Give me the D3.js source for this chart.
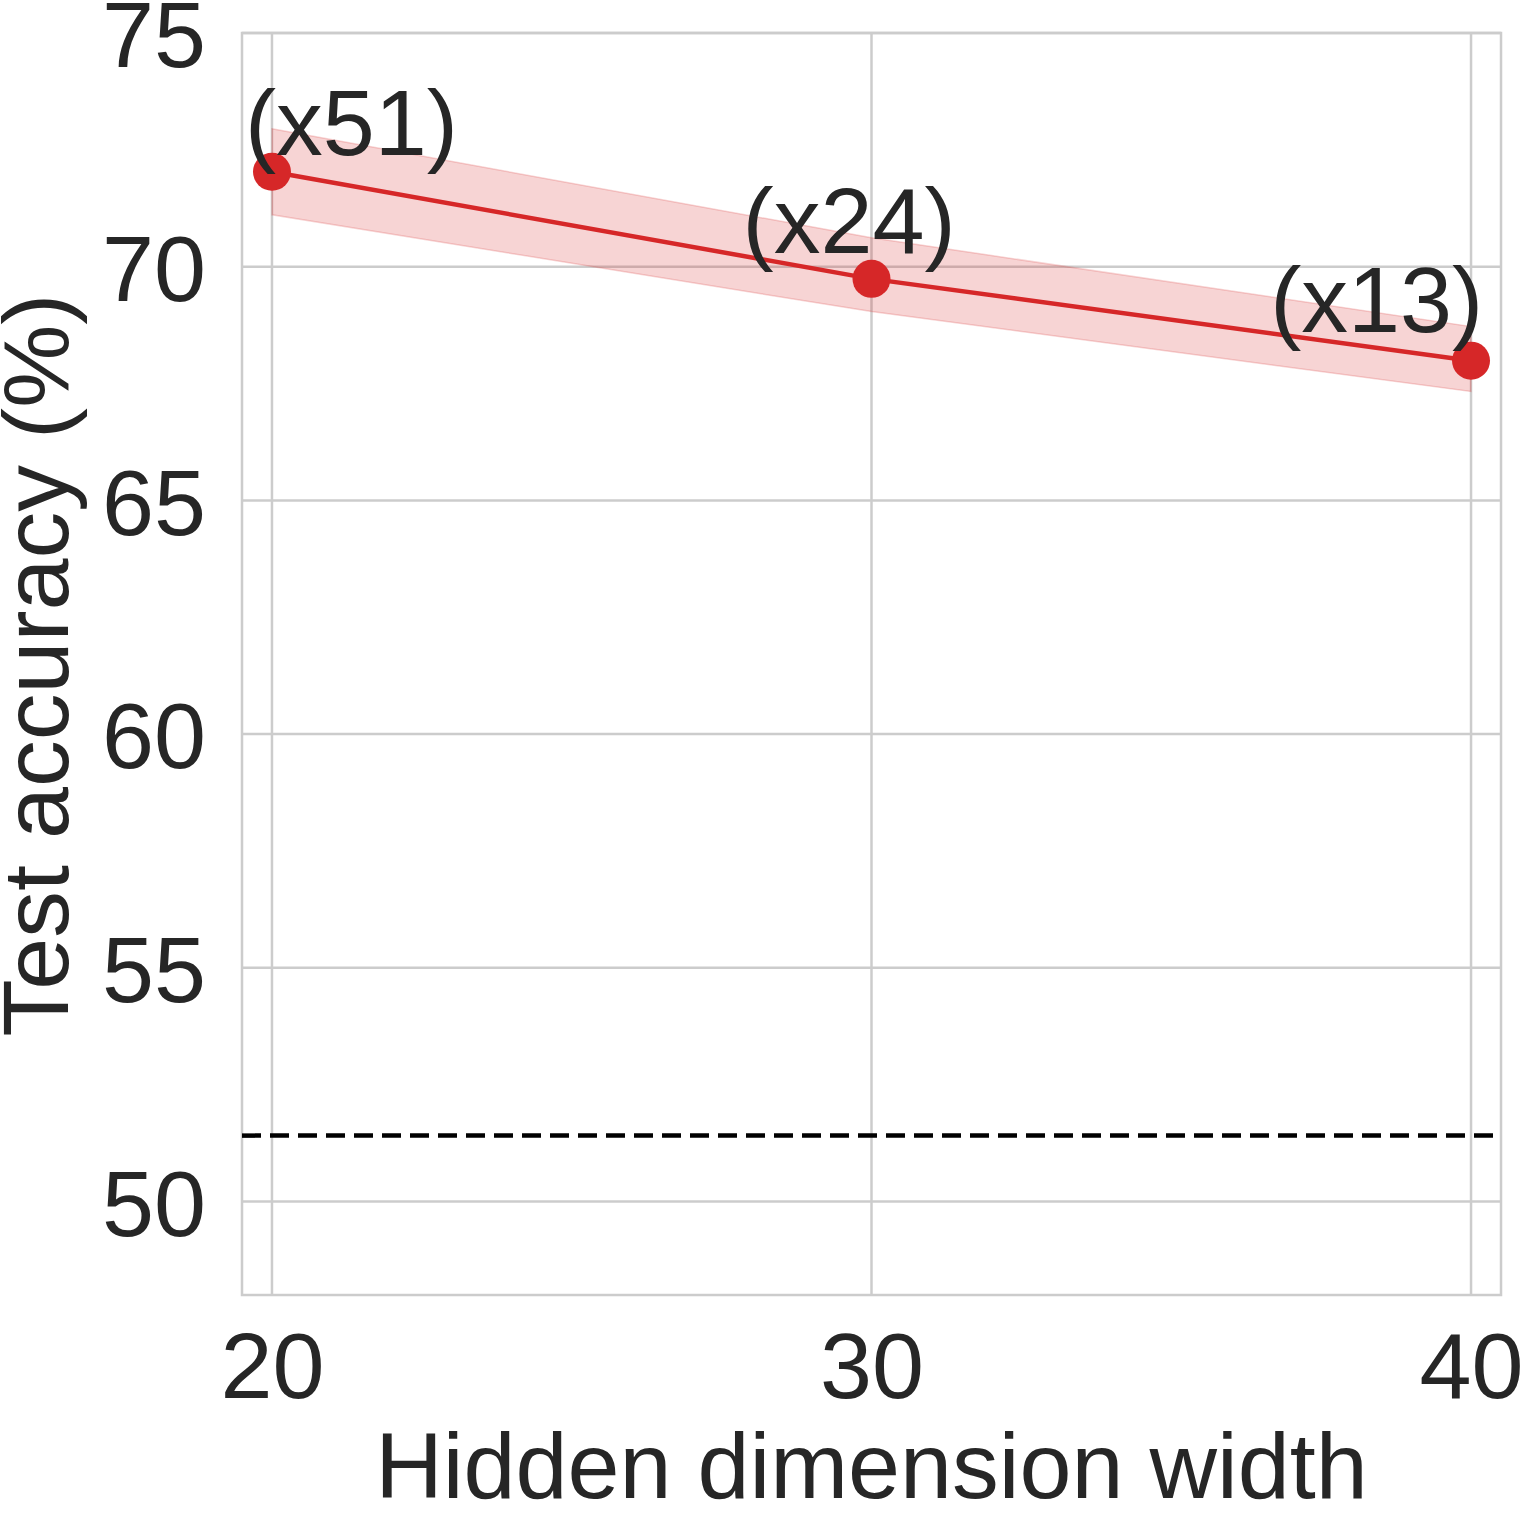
<!DOCTYPE html>
<html>
<head>
<meta charset="utf-8">
<script src="https://cdn.jsdelivr.net/npm/d3@7"></script>
<style>
    body { margin: 0; background: #fff; }
    svg text { font-family: Arial, "Liberation Sans", sans-serif; fill: #262626; }
</style>
</head>
<body>
<script>

// data
const widths = [20, 30, 40]
const accMean = [72.03, 69.74, 67.99]
const accLow = [71.11, 69.04, 67.33]
const accHigh = [72.95, 70.62, 68.72]
const speedup = ['(x51)', '(x24)', '(x13)']
const labelX = [19.55, 27.85, 36.65]
const labelY = [72.39, 70.30, 68.61]
const baseline = 51.41

const xTicks = [20, 30, 40]
const yTicks = [50, 55, 60, 65, 70, 75]

const W = 1524, H = 1517
const m = { left: 242, right: 1501, top: 33, bottom: 1295 }
const fs = 93.5
const red = '#d62728'
const grid = '#cccccc'

const svg = d3.select('body').append('svg')
    .attr('width', W)
    .attr('height', H)

const x = d3.scaleLinear().domain([19.5, 40.5]).range([m.left, m.right])
const y = d3.scaleLinear().domain([48, 75]).range([m.bottom, m.top])

// grid
svg.append('g')
    .selectAll('line')
    .data(xTicks)
    .join('line')
    .attr('x1', d => x(d)).attr('x2', d => x(d))
    .attr('y1', m.top).attr('y2', m.bottom)
    .attr('stroke', grid).attr('stroke-width', 2.5)

svg.append('g')
    .selectAll('line')
    .data(yTicks)
    .join('line')
    .attr('x1', m.left).attr('x2', m.right)
    .attr('y1', d => y(d)).attr('y2', d => y(d))
    .attr('stroke', grid).attr('stroke-width', 2.5)

// frame
svg.append('rect')
    .attr('x', m.left).attr('y', m.top)
    .attr('width', m.right - m.left).attr('height', m.bottom - m.top)
    .attr('fill', 'none')
    .attr('stroke', grid).attr('stroke-width', 2.5)

// tick labels
const xAxis = svg.append('g')
    .attr('transform', `translate(0,${m.bottom})`)
    .call(d3.axisBottom(x).tickValues(xTicks).tickSize(0).tickPadding(0))
xAxis.select('.domain').remove()
xAxis.selectAll('text')
    .attr('dy', null)
    .attr('y', 103)
    .attr('font-size', fs)

const yAxis = svg.append('g')
    .attr('transform', `translate(${m.left},0)`)
    .call(d3.axisLeft(y).tickValues(yTicks).tickSize(0).tickPadding(36))
yAxis.select('.domain').remove()
yAxis.selectAll('text')
    .attr('dy', '0.36em')
    .attr('font-size', fs)

// axis titles
svg.append('text')
    .attr('x', (m.left + m.right) / 2)
    .attr('y', 1498)
    .attr('text-anchor', 'middle')
    .attr('font-size', fs)
    .text('Hidden dimension width')

svg.append('text')
    .attr('transform', 'translate(68,665) rotate(-90)')
    .attr('text-anchor', 'middle')
    .attr('font-size', fs)
    .text('Test accuracy (%)')

// baseline
svg.append('line')
    .attr('x1', m.left).attr('x2', m.right)
    .attr('y1', y(baseline)).attr('y2', y(baseline))
    .attr('stroke', '#000')
    .attr('stroke-width', 4.5)
    .attr('stroke-dasharray', '19 9')

const pts = widths.map((w, i) => ({ w, mean: accMean[i], lo: accLow[i], hi: accHigh[i] }))

// band
svg.append('path')
    .datum(pts)
    .attr('d', d3.area().x(d => x(d.w)).y0(d => y(d.lo)).y1(d => y(d.hi)))
    .attr('fill', red)
    .attr('fill-opacity', 0.2)
    .attr('stroke', red)
    .attr('stroke-opacity', 0.2)
    .attr('stroke-width', 1.5)

// line
svg.append('path')
    .datum(pts)
    .attr('d', d3.line().x(d => x(d.w)).y(d => y(d.mean)))
    .attr('fill', 'none')
    .attr('stroke', red)
    .attr('stroke-width', 4.5)

svg.append('g')
    .selectAll('circle')
    .data(pts)
    .join('circle')
    .attr('cx', d => x(d.w))
    .attr('cy', d => y(d.mean))
    .attr('r', 19)
    .attr('fill', red)

// annotations
svg.append('g')
    .selectAll('text')
    .data(speedup)
    .join('text')
    .attr('x', (d, i) => x(labelX[i]))
    .attr('y', (d, i) => y(labelY[i]))
    .attr('font-size', fs)
    .text(d => d)

</script>
</body>
</html>
